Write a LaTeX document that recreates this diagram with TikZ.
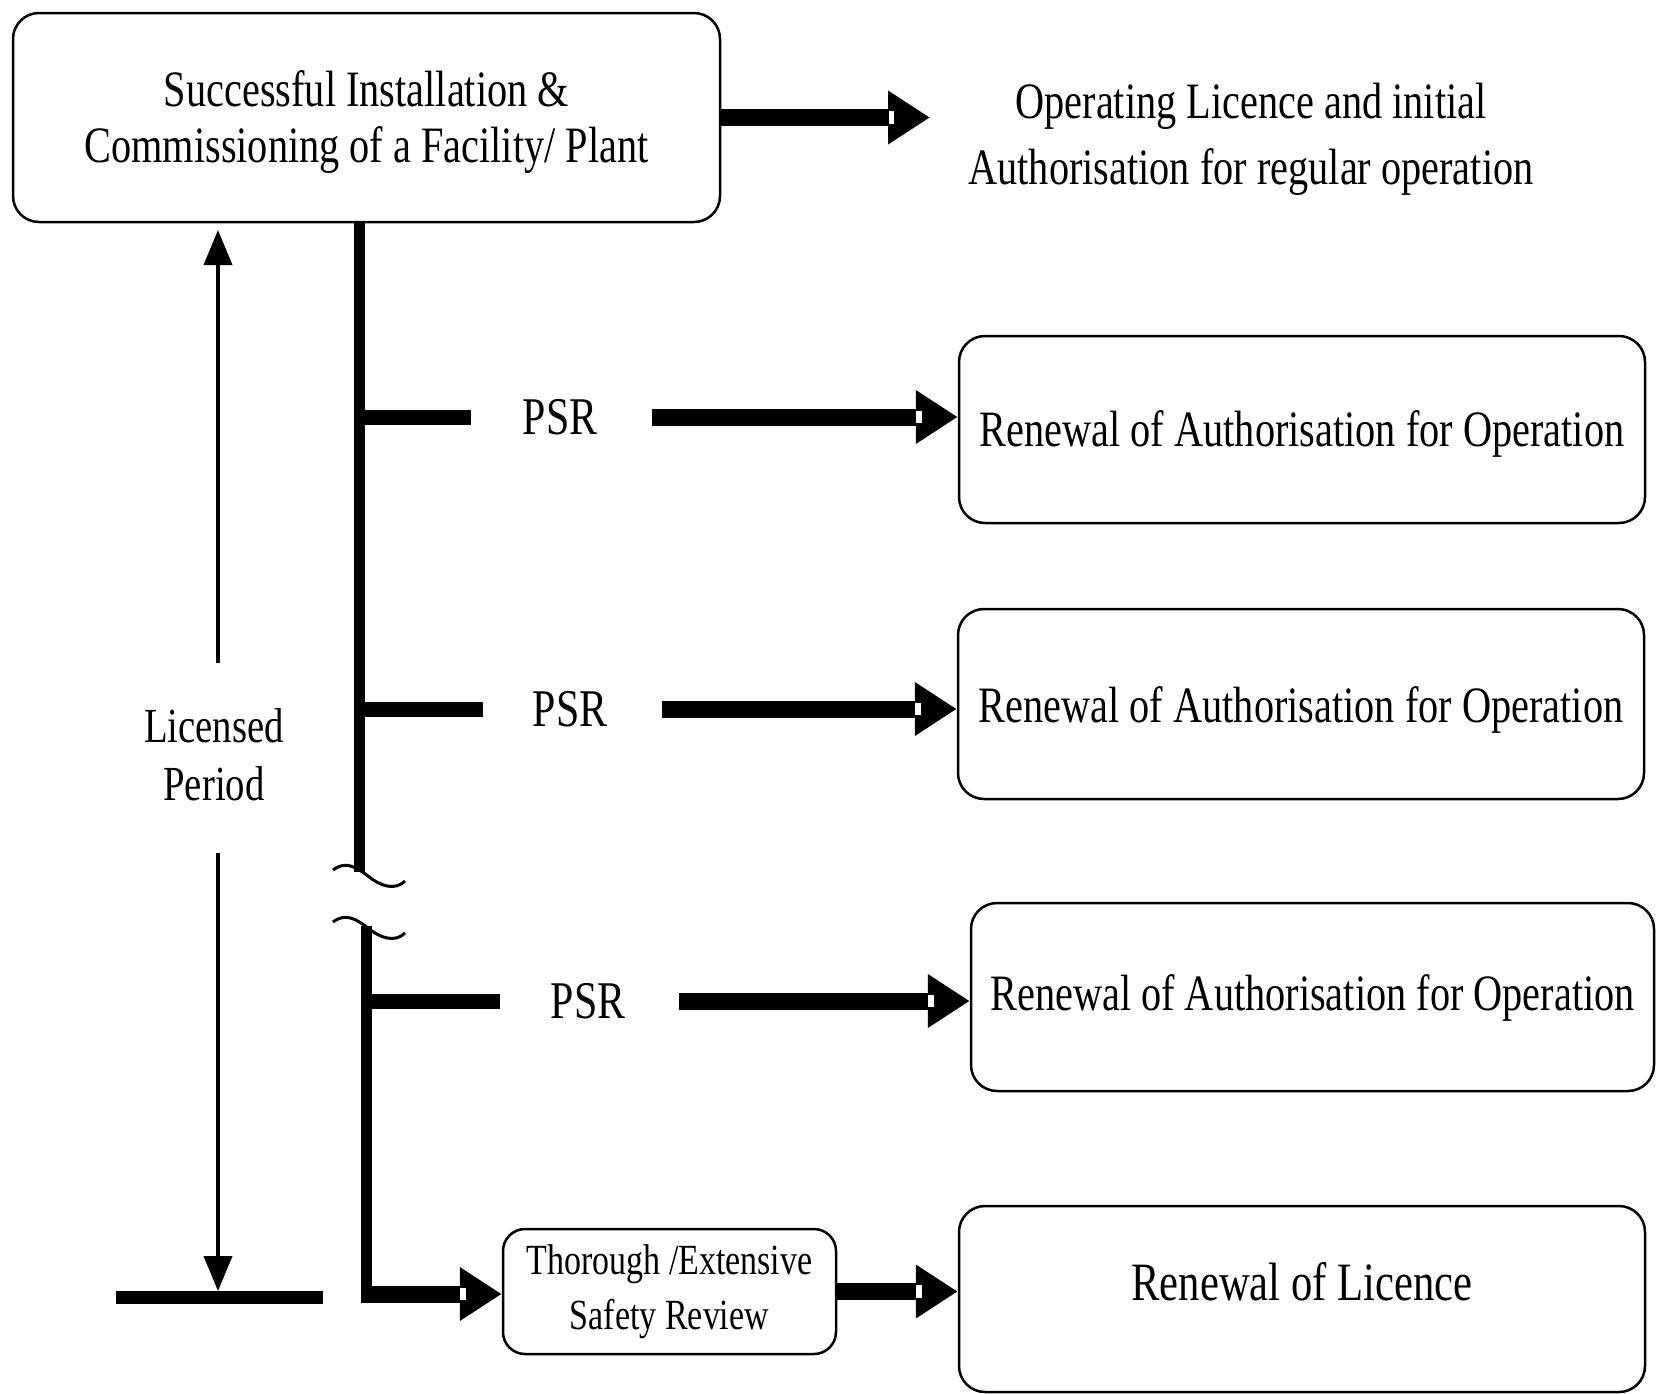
\documentclass[tikz,border=0pt]{standalone}
\usepackage{fontspec}
\setmainfont{Liberation Serif}[FakeStretch=0.79]
\usetikzlibrary{arrows.meta}
\newcommand\fA{\fontsize{51}{56}\selectfont}
\newcommand\fTR{\fontsize{51}{66}\selectfont}
\newcommand\fPSR{\fontsize{53}{58}\selectfont}
\newcommand\fLP{\fontsize{49}{58}\selectfont}
\newcommand\fSB{\fontsize{43}{55}\selectfont}
\newcommand\fRL{\fontsize{54}{60}\selectfont}
\newcommand\notchat[1]{\draw[notchbox] ([shift={(-42,-7)}]#1) rectangle ([shift={(-35,7)}]#1);}
\begin{document}
\begin{tikzpicture}[x=1pt,y=-1pt,
  rbox/.style={draw, line width=2.5pt, rounded corners=26pt, inner sep=0pt, align=center},
  txt/.style={align=center, inner sep=0pt},
  bigarrow/.style={line width=17pt, -{Triangle[length=42pt,width=51pt]}},
  notchbox/.style={fill=white, draw=black, line width=1.2pt},
  thinarrow/.style={line width=4pt, -{Triangle[length=35pt,width=28pt]}},
  trunkline/.style={line width=11pt},
  stub/.style={line width=15pt},
  breakline/.style={line width=3pt}
]
\useasboundingbox (0,0) rectangle (1656,1393);

% top box and first arrow
\node[rbox, minimum width=707pt, minimum height=209pt] (top) at (366.5,117.5) {};
\node[txt, font=\fA] (topt) at ([yshift=-5pt]top.center)
  {Successful Installation \&\\Commissioning of a Facility/ Plant};
\coordinate (ta) at (930,116);
\coordinate (e0) at (top.east -| ta);
\draw[bigarrow] (top.east) -- (e0);
\notchat{e0}
\node[txt, font=\fTR] (opl) at (1251,139)
  {Operating Licence and initial\\Authorisation for regular operation};

% right boxes
\node[rbox, minimum width=686pt, minimum height=187pt] (b1) at (1302,429.5) {};
\node[txt, font=\fA] (b1t) at ([yshift=-4pt]b1.center) {Renewal of Authorisation for Operation};
\node[rbox, minimum width=686pt, minimum height=190pt] (b2) at (1301,704) {};
\node[txt, font=\fA] (b2t) at ([yshift=-6pt]b2.center) {Renewal of Authorisation for Operation};
\node[rbox, minimum width=683pt, minimum height=188pt] (b3) at (1312.5,997) {};
\node[txt, font=\fA] (b3t) at ([yshift=-1pt]b3.center) {Renewal of Authorisation for Operation};
\node[rbox, minimum width=686pt, minimum height=186pt] (b4) at (1302,1299) {};
\node[txt, font=\fRL] (b4t) at ([yshift=17pt]b4.center) {Renewal of Licence};

% small box
\node[rbox, rounded corners=22pt, minimum width=333pt, minimum height=125pt, font=\fSB] (sb) at (669.5,1291.5)
  {Thorough /Extensive\\Safety Review};

% trunk with break
\coordinate (tu) at (359,872);
\coordinate (tl1) at (366,926);
\coordinate (tl2) at (366,1303);
\draw[trunkline] (top.south -| tu) -- (tu);
\draw[trunkline] (tl1) -- (tl2);
\draw[breakline] (333,870) .. controls (345,861) and (355,866) .. (368,876)
  .. controls (380,886) and (395,891) .. (405,881);
\draw[breakline] (333,922) .. controls (345,913) and (355,918) .. (368,928)
  .. controls (380,938) and (395,943) .. (405,933);

% PSR rows
\coordinate (s1) at (471,417);
\coordinate (s2) at (483,709);
\coordinate (s3) at (500,1001);
\draw[stub] (s1 -| tu) -- (s1);
\draw[stub] (s2 -| tu) -- (s2);
\draw[stub] (s3 -| tl1) -- (s3);
\node[txt, font=\fPSR] (p1) at (560,417) {PSR};
\node[txt, font=\fPSR] (p2) at (570,709) {PSR};
\node[txt, font=\fPSR] (p3) at (588,1001) {PSR};
\coordinate (a1) at (652,417);
\coordinate (a2) at (662,709);
\coordinate (a3) at (679,1001);
\coordinate (e1) at (a1 -| b1.west);
\coordinate (e2) at (a2 -| b2.west);
\coordinate (e3) at (a3 -| b3.west);
\draw[bigarrow] (a1) -- (e1);
\draw[bigarrow] (a2) -- (e2);
\draw[bigarrow] (a3) -- (e3);
\notchat{e1}
\notchat{e2}
\notchat{e3}

% bottom row
\coordinate (c4) at (361,1294);
\coordinate (e4) at (c4 -| sb.west);
\coordinate (e5) at (sb.east -| b4.west);
\draw[bigarrow] (c4) -- (e4);
\draw[bigarrow] (sb.east) -- (e5);
\notchat{e4}
\notchat{e5}

% licensed period
\node[txt, font=\fLP] (lp) at (214,755) {Licensed\\Period};
\coordinate (lu0) at (218,663);
\coordinate (lu1) at (218,230);
\coordinate (ld0) at (218,853);
\coordinate (ld1) at (218,1291);
\draw[thinarrow] (lu0) -- (lu1);
\draw[thinarrow] (ld0) -- (ld1);
\coordinate (barL) at (116,1297);
\coordinate (barR) at (323,1297);
\draw[line width=13pt] (barL) -- (barR);
\end{tikzpicture}
\end{document}
